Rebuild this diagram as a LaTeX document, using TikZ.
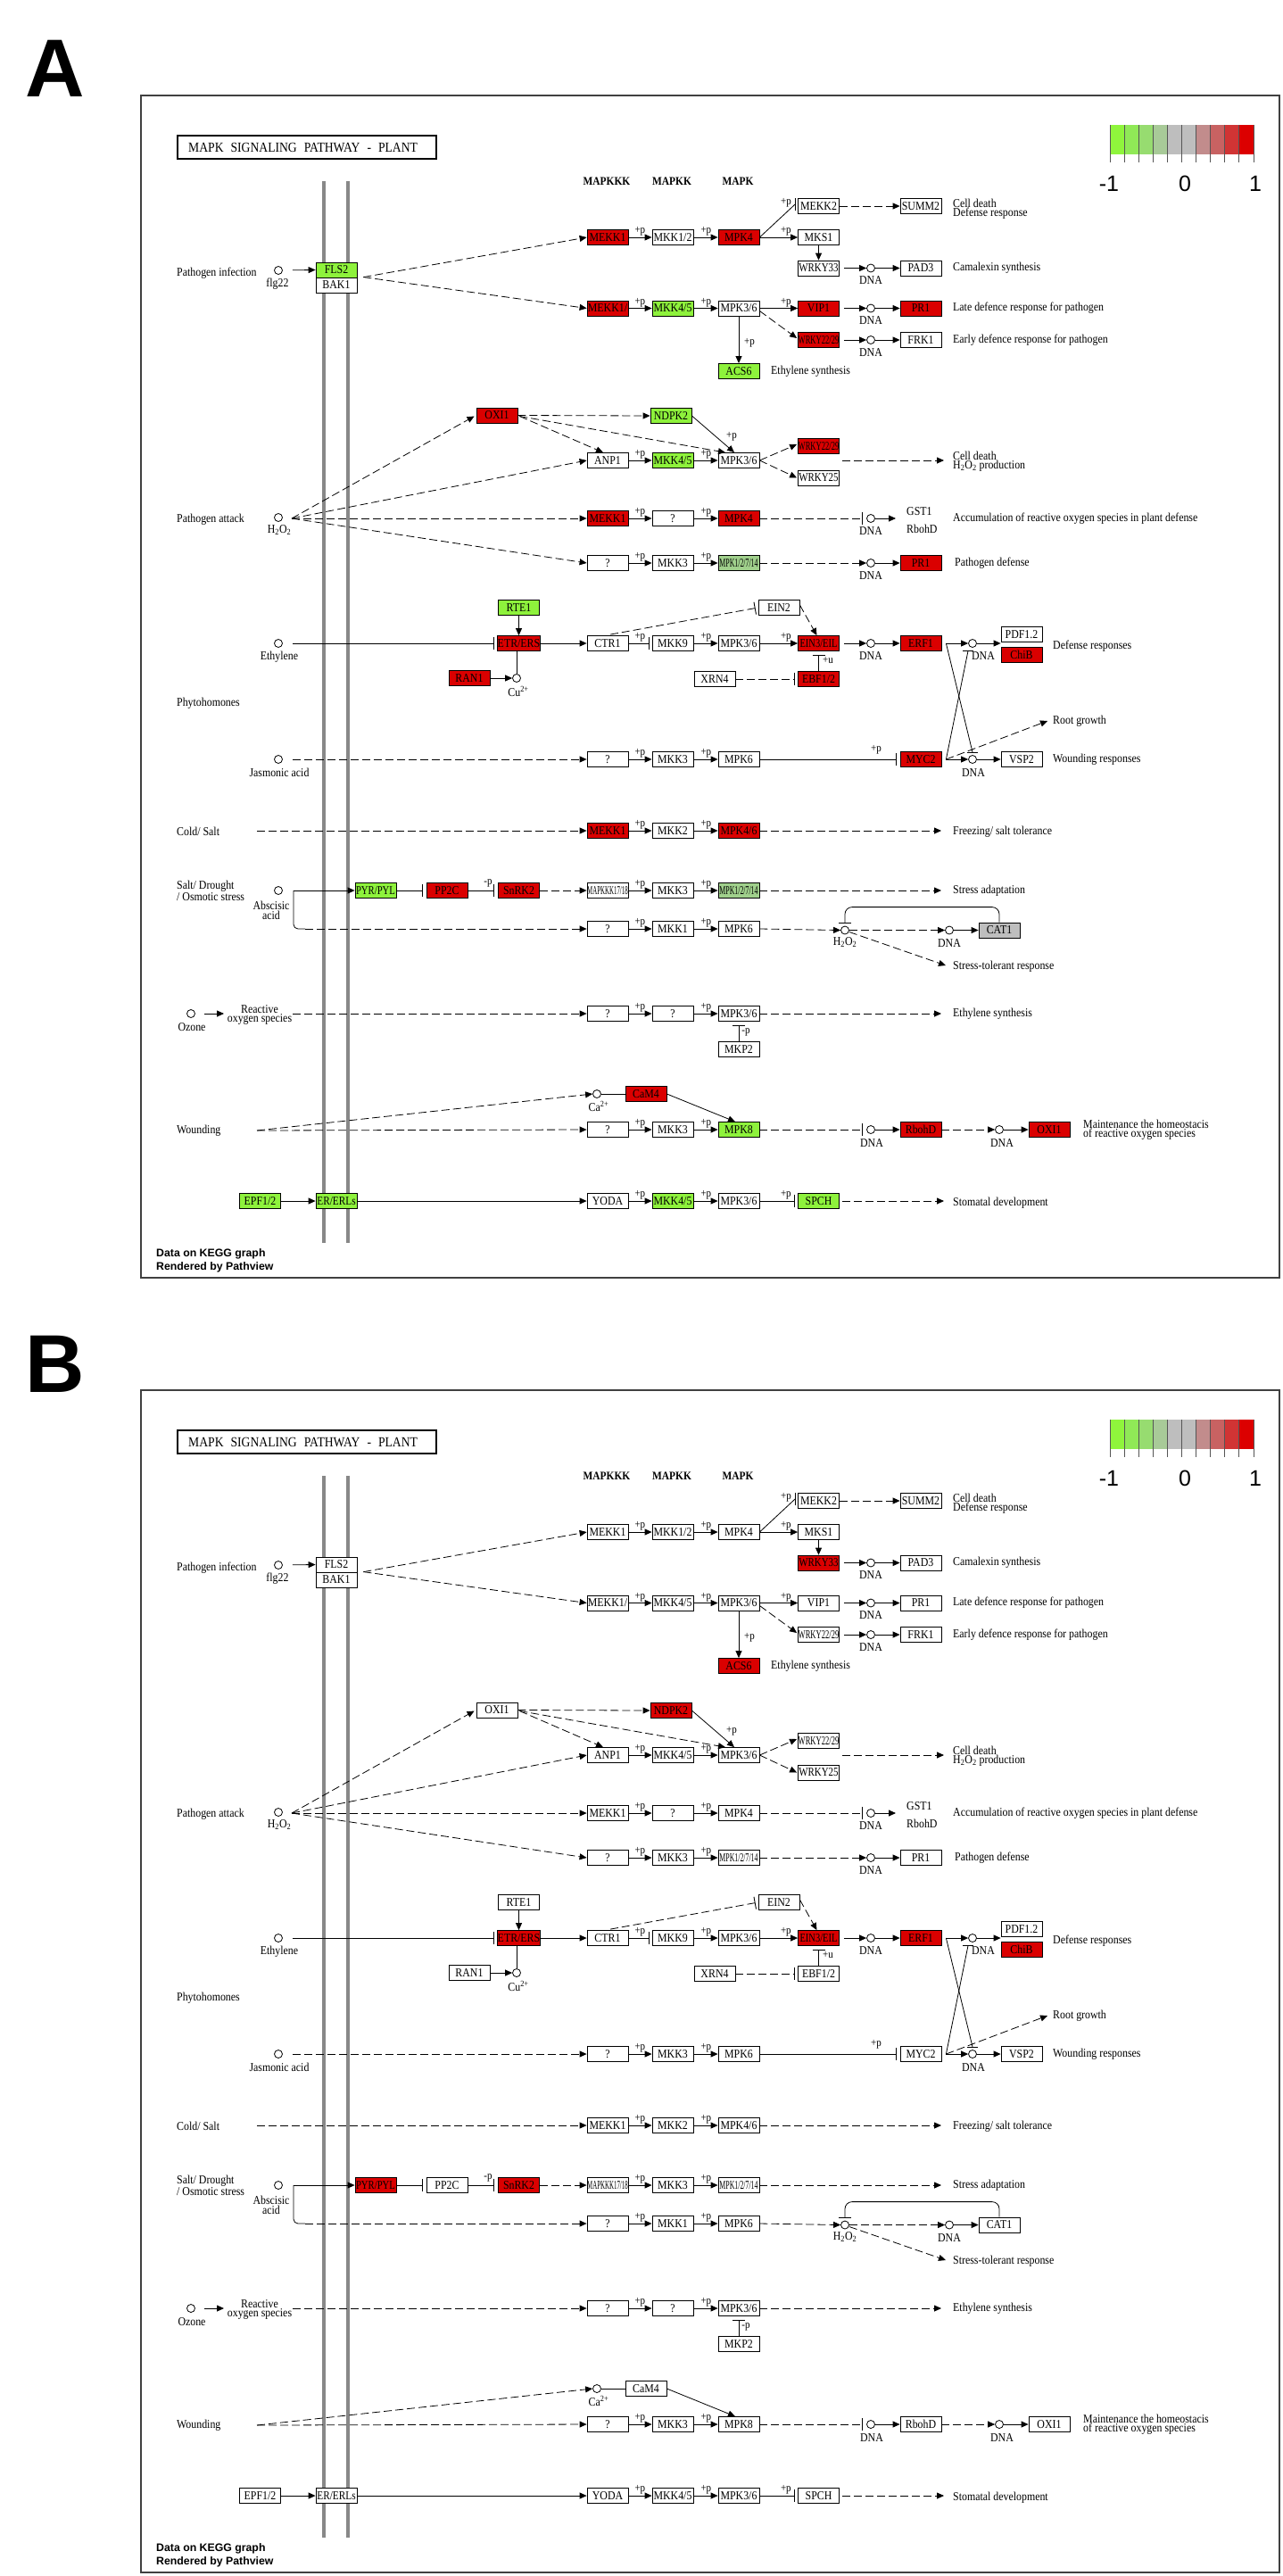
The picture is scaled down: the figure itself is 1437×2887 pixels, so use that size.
\documentclass[tikz,border=0pt]{standalone}
\usepackage{fontspec}
\usepackage{graphicx}
\usetikzlibrary{arrows.meta,calc}
\setmainfont{Liberation Serif}
\newfontfamily\kfam{Liberation Serif}[FakeStretch=0.88]
\newfontfamily\ksans{Liberation Sans}
\newcommand\kf{\kfam\fontsize{13.5}{11.5}\selectfont}
\newcommand\kfs{\kfam\fontsize{12.5}{11}\selectfont}
\newcommand\kfh{\kfam\bfseries\fontsize{13}{13}\selectfont}
\newcommand\kft{\kfam\fontsize{15.5}{15.5}\selectfont}
\newcommand\sq[2]{\scalebox{#1}[1]{#2}}
\definecolor{kred}{HTML}{DA0000}
\definecolor{kgreen}{HTML}{8EF23C}
\definecolor{klgreen}{HTML}{A0D08C}
\definecolor{kgray}{HTML}{BEBEBE}
\definecolor{membgray}{HTML}{888888}
\definecolor{tickgray}{HTML}{555555}
\definecolor{lg1}{HTML}{8FF53C}
\definecolor{lg2}{HTML}{90E957}
\definecolor{lg3}{HTML}{97DC70}
\definecolor{lg4}{HTML}{A8CA98}
\definecolor{lg5}{HTML}{BEBEBE}
\definecolor{lg6}{HTML}{BEBEBE}
\definecolor{lg7}{HTML}{C28C8C}
\definecolor{lg8}{HTML}{C86262}
\definecolor{lg9}{HTML}{D13434}
\definecolor{lg10}{HTML}{DC0000}
\tikzset{
  kbox/.style={draw=black, line width=0.8pt, fill=white, minimum width=46pt, minimum height=17pt, inner sep=0pt, font=\kf},
  kr/.style={fill=kred}, kg/.style={fill=kgreen}, klg/.style={fill=klgreen}, kgy/.style={fill=kgray},
  kc/.style={circle, draw=black, line width=0.8pt, minimum size=9pt, inner sep=0pt, fill=white},
  tx/.style={font=\kf, inner sep=0pt, anchor=west},
  tc/.style={font=\kf, inner sep=0pt},
  plab/.style={font=\kfs, inner sep=0pt},
  hd/.style={font=\kfh, inner sep=0pt},
  ft/.style={font=\ksans\bfseries\fontsize{12.3}{14}\selectfont, inner sep=0pt, anchor=west},
  lgf/.style={font=\ksans\fontsize{25}{25}\selectfont, inner sep=0pt},
  ar/.style={draw, line width=0.8pt, -{Triangle[length=8pt,width=7pt]}},
  da/.style={ar, dash pattern=on 9pt off 4pt},
  ih/.style={draw, line width=0.8pt, -{Bar[width=14pt,line width=0.9pt]}},
  dih/.style={ih, dash pattern=on 9pt off 4pt},
  ln/.style={draw, line width=0.8pt},
  memb/.style={draw=membgray, line width=3.5pt},
  cc-fls2/.style={}, cc-mekk1a/.style={}, cc-mpk4a/.style={}, cc-wrky33/.style={}, cc-mekk1b/.style={},
  cc-mkk45a/.style={}, cc-vip1/.style={}, cc-pr1a/.style={}, cc-wrky2229a/.style={}, cc-acs6/.style={},
  cc-oxi1a/.style={}, cc-ndpk2/.style={}, cc-mkk45b/.style={}, cc-wrky2229b/.style={}, cc-mekk1c/.style={},
  cc-mpk4b/.style={}, cc-mpk1a/.style={}, cc-pr1b/.style={}, cc-rte1/.style={}, cc-etr/.style={},
  cc-ran1/.style={}, cc-ein3/.style={}, cc-ebf12/.style={}, cc-erf1/.style={}, cc-chib/.style={},
  cc-myc2/.style={}, cc-mekk1d/.style={}, cc-mpk46/.style={}, cc-pyr/.style={}, cc-pp2c/.style={},
  cc-snrk2/.style={}, cc-mpk1b/.style={}, cc-cat1/.style={}, cc-cam4/.style={}, cc-mpk8/.style={},
  cc-rbohd/.style={}, cc-oxi1b/.style={}, cc-epf/.style={}, cc-erl/.style={}, cc-mkk45c/.style={},
  cc-spch/.style={}
}
\newcommand\kpa[3]{\draw[ar] (#1.east) -- (#2.west) node[plab, at end, anchor=south east, xshift=-7pt, yshift=1pt, name=#3] {+p};}
\newcommand\kpi[3]{\draw[ih, shorten >=3pt] (#1.east) -- (#2.west) node[plab, at end, anchor=south east, xshift=-7pt, yshift=1pt, name=#3] {+p};}
\newcommand\kpanel{%
\draw[line width=1.2pt, draw=black!75] (158,107) rectangle (1434,1432);
\draw[line width=2pt] (199,152) rectangle (489,178);
\node[inner sep=0pt, anchor=west, font=\kft] (title) at (211,165) {MAPK\hspace{8pt}SIGNALING\hspace{8pt}PATHWAY\hspace{8pt}-\hspace{8pt}PLANT};
\draw[memb] (363,203) -- (363,1393);
\draw[memb] (390,203) -- (390,1393);
\node[hd] (h3) at (680,203) {MAPKKK};
\node[hd] (h2) at (753,203) {MAPKK};
\node[hd] (h1) at (827,203) {MAPK};
% legend
\foreach \c [count=\i from 0] in {lg1,lg2,lg3,lg4,lg5,lg6,lg7,lg8,lg9,lg10}{\fill[\c] ({1244+16.1*\i},140) rectangle ++(16.1,33);}
\foreach \i in {0,...,10}{\draw[line width=0.9pt, draw=tickgray] ({1244+16.1*\i},140) -- ({1244+16.1*\i},182);}
\node[lgf] (lm1) at (1243,206) {-1};
\node[lgf] (l0) at (1328,206) {0};
\node[lgf] (lp1) at (1407,206) {1};
% ---------- pathogen infection
\node[tx] (t-pi) at (198,306) {Pathogen infection};
\node[kc] (flg) at (312,303) {};
\node[tc] (t-flg) at (311,318) {flg22};
\node[kbox,cc-fls2] (fls2) at (377,302.5) {FLS2};
\node[kbox] (bak1) at (377,319.5) {BAK1};
\draw[ar, shorten <=11pt] (flg) -- (fls2.west);
\node[kbox,cc-mekk1a] (mekk1a) at (681,266) {MEKK1};
\node[kbox] (mkk12) at (754,266) {MKK1/2};
\node[kbox,cc-mpk4a] (mpk4a) at (828,266) {MPK4};
\node[kbox] (mekk2) at (917.5,231) {MEKK2};
\node[kbox] (summ2) at (1032,231) {SUMM2};
\node[kbox] (mks1) at (917.5,266) {MKS1};
\node[kbox,cc-wrky33] (wrky33) at (917.5,300.5) {\sq{0.92}{WRKY33}};
\node[kbox] (pad3) at (1032,300.5) {PAD3};
\node[kc] (dna1) at (976,300.5) {};
\node[tc] (t-dna1) at (976,314) {DNA};
\node[kbox,cc-mekk1b] (mekk1b) at (681,345.5) {MEKK1/};
\node[kbox,cc-mkk45a] (mkk45a) at (754,345.5) {MKK4/5};
\node[kbox] (mpk36a) at (828,345.5) {MPK3/6};
\node[kbox,cc-vip1] (vip1) at (917.5,345.5) {VIP1};
\node[kbox,cc-pr1a] (pr1a) at (1032,345.5) {PR1};
\node[kc] (dna2) at (976,345.5) {};
\node[tc] (t-dna2) at (976,359) {DNA};
\node[kbox,cc-wrky2229a] (wrky2229a) at (917.5,381) {\sq{0.72}{WRKY22/29}};
\node[kbox] (frk1) at (1032,381) {FRK1};
\node[kc] (dna3) at (976,381) {};
\node[tc] (t-dna3) at (976,395) {DNA};
\node[kbox,cc-acs6] (acs6) at (828,416) {ACS6};
\draw[da] ($(bak1.north east)+(7,0)$) -- (mekk1a.west);
\draw[da] ($(bak1.north east)+(7,0)$) -- (mekk1b.west);
\kpa{mekk1a}{mkk12}{p1}
\kpa{mkk12}{mpk4a}{p2}
\coordinate (mk2b) at ($(mekk2.west)+(-3,-2)$);
\draw[ln] (mpk4a.east) -- (mk2b);
\draw[ln] (mk2b) +(0,-7) -- +(0,7);
\node[plab] (p3) at (881,227) {+p};
\kpa{mpk4a}{mks1}{p4}
\draw[ar] (mks1.south) -- (wrky33.north);
\draw[ar, shorten <=5pt] (wrky33.east) -- (dna1.west);
\draw[ar] (dna1.east) -- (pad3.west);
\draw[da] (mekk2.east) -- (summ2.west);
\node[tx] (t-cd1) at (1068,228) {Cell death};
\node[tx] (t-dr1) at (1068,239) {Defense response};
\node[tx] (t-cam) at (1068,300.5) {Camalexin synthesis};
\kpa{mekk1b}{mkk45a}{p5}
\kpa{mkk45a}{mpk36a}{p6}
\kpa{mpk36a}{vip1}{p7}
\draw[da] ($(mpk36a.east)+(0,3)$) -- ($(wrky2229a.west)+(-1,-2)$);
\draw[ar] (mpk36a.south) -- (acs6.north);
\node[plab] (p8) at (840,384) {+p};
\draw[ar, shorten <=5pt] (vip1.east) -- (dna2.west);
\draw[ar] (dna2.east) -- (pr1a.west);
\draw[ar, shorten <=5pt] (wrky2229a.east) -- (dna3.west);
\draw[ar] (dna3.east) -- (frk1.west);
\node[tx] (t-ldr) at (1068,345.5) {Late defence response for pathogen};
\node[tx] (t-edr) at (1068,381) {Early defence response for pathogen};
\node[tx] (t-es1) at (864,416) {Ethylene synthesis};
% ---------- pathogen attack
\node[tx] (t-pa) at (198,582) {Pathogen attack};
\node[kc] (h2o2) at (312,580) {};
\node[tc] (t-h2o2) at (313,594) {H\textsubscript{2}O\textsubscript{2}};
\coordinate (hs) at (327,581);
\node[kbox,cc-oxi1a] (oxi1a) at (557,465.5) {OXI1};
\node[kbox,cc-ndpk2] (ndpk2) at (752,466) {NDPK2};
\node[kbox] (anp1) at (681,516) {ANP1};
\node[kbox,cc-mkk45b] (mkk45b) at (754,516) {MKK4/5};
\node[kbox] (mpk36b) at (828,516) {MPK3/6};
\node[kbox,cc-wrky2229b] (wrky2229b) at (917.5,500) {\sq{0.72}{WRKY22/29}};
\node[kbox] (wrky25) at (917.5,535.5) {\sq{0.92}{WRKY25}};
\node[kbox,cc-mekk1c] (mekk1c) at (681,581) {MEKK1};
\node[kbox] (q1) at (754,581) {?};
\node[kbox,cc-mpk4b] (mpk4b) at (828,581) {MPK4};
\node[kbox] (q2) at (681,631) {?};
\node[kbox] (mkk3a) at (754,631) {MKK3};
\node[kbox,cc-mpk1a] (mpk1a) at (828,631) {\sq{0.66}{MPK1/2/7/14}};
\node[kbox,cc-pr1b] (pr1b) at (1032,631) {PR1};
\draw[da] (hs) -- ($(oxi1a.west)+(-2,1)$);
\draw[da] (hs) -- (anp1.west);
\draw[da] (hs) -- (mekk1c.west);
\draw[da] (hs) -- (q2.west);
\draw[da] (oxi1a.east) -- (ndpk2.west);
\draw[da] ($(oxi1a.east)+(2,1)$) -- ($(anp1.north)+(-5,0)$);
\draw[da] ($(oxi1a.east)+(2,1)$) -- ($(mpk36b.north)+(-15,0)$);
\draw[ar] (ndpk2.east) -- ($(mpk36b.north)+(-5,0)$);
\node[plab] (p9) at (820,489) {+p};
\kpa{anp1}{mkk45b}{p10}
\kpa{mkk45b}{mpk36b}{p11}
\draw[da] (mpk36b.east) -- ($(wrky2229b.west)+(-1,-2)$);
\draw[da] (mpk36b.east) -- ($(wrky25.west)+(-1,0)$);
\coordinate (cds) at (944,516);
\coordinate (cde) at (1058,516);
\draw[da] (cds) -- (cde);
\node[tx] (t-cd2a) at (1068,511) {Cell death};
\node[tx] (t-cd2b) at (1068,522) {H\textsubscript{2}O\textsubscript{2} production};
\kpa{mekk1c}{q1}{p12}
\kpa{q1}{mpk4b}{p13}
\node[kc] (dna4) at (976,581) {};
\node[tc] (t-dna4) at (976,595) {DNA};
\draw[dih, shorten >=4.5pt] (mpk4b.east) -- (dna4.west);
\coordinate (g1) at (1004,581);
\draw[ar] (dna4.east) -- (g1);
\node[tx] (t-gst) at (1016,573) {GST1};
\node[tx] (t-rboh) at (1016,593) {RbohD};
\node[tx] (t-acc) at (1068,581) {Accumulation of reactive oxygen species in plant defense};
\kpa{q2}{mkk3a}{p14}
\kpa{mkk3a}{mpk1a}{p15}
\node[kc] (dna5) at (976,631) {};
\node[tc] (t-dna5) at (976,645) {DNA};
\draw[da] (mpk1a.east) -- (dna5.west);
\draw[ar] (dna5.east) -- (pr1b.west);
\node[tx] (t-pd) at (1070,631) {Pathogen defense};
% ---------- ethylene
\node[kc] (ethy) at (312,721) {};
\node[tc] (t-ethy) at (313,736) {Ethylene};
\node[kbox,cc-rte1] (rte1) at (581.5,681) {RTE1};
\node[kbox,cc-etr] (etr) at (581.5,721) {ETR/ERS};
\node[kbox,cc-ran1] (ran1) at (526,760) {RAN1};
\node[kc] (cu) at (579,760) {};
\node[tc] (t-cu) at (581,775) {Cu\textsuperscript{2+}};
\node[kbox] (ctr1) at (681,721) {CTR1};
\node[kbox] (mkk9) at (754,721) {MKK9};
\node[kbox] (mpk36c) at (828,721) {MPK3/6};
\node[kbox] (ein2) at (873,681) {EIN2};
\node[kbox,cc-ein3] (ein3) at (917.5,721) {\sq{0.88}{EIN3/EIL}};
\node[kbox] (xrn4) at (801,761) {XRN4};
\node[kbox,cc-ebf12] (ebf12) at (917.5,761) {EBF1/2};
\node[kc] (dna6) at (976,721) {};
\node[tc] (t-dna6) at (976,735) {DNA};
\node[kbox,cc-erf1] (erf1) at (1032,721) {ERF1};
\node[kc] (dna7) at (1090,721) {};
\node[tc] (t-dna7) at (1102,735) {DNA};
\node[kbox] (pdf12) at (1145,711) {PDF1.2};
\node[kbox,cc-chib] (chib) at (1145,734) {ChiB};
\node[tx] (t-defr) at (1180,724) {Defense responses};
\draw[ih, shorten <=11pt, shorten >=3pt] (ethy) -- (etr.west);
\draw[ar] (rte1.south) -- (etr.north);
\draw[ln] (etr.south -| cu) -- (cu.north);
\draw[ar] (ran1.east) -- (cu.west);
\draw[ar] (etr.east) -- (ctr1.west);
\kpi{ctr1}{mkk9}{p16}
\kpa{mkk9}{mpk36c}{p17}
\kpa{mpk36c}{ein3}{p18}
\draw[dih, shorten >=3pt] ($(ctr1.north)+(3,-1)$) -- (ein2.west);
\draw[da] ($(ein2.east)+(0,-3)$) -- ($(ein3.north)+(-2,0)$);
\draw[ih, shorten >=4pt] (ebf12.north) -- (ein3.south);
\node[plab] (p19) at (928,740) {+u};
\draw[dih, shorten >=3pt] (xrn4.east) -- (ebf12.west);
\draw[ar, shorten <=5pt] (ein3.east) -- (dna6.west);
\draw[ar] (dna6.east) -- (erf1.west);
\coordinate (e1) at ($(erf1.east)+(5,0)$);
\draw[ar] (e1) -- (dna7.west);
\coordinate (pc) at ($(pdf12.south west)!0.5!(chib.north west)$);
\draw[ar] (dna7.east) -- (pc |- dna7);
% ---------- jasmonic
\node[tx] (t-phy) at (198,788) {Phytohomones};
\node[kc] (jas) at (312,851) {};
\node[tc] (t-jas) at (313,866) {Jasmonic acid};
\node[kbox] (q3) at (681,851) {?};
\node[kbox] (mkk3b) at (754,851) {MKK3};
\node[kbox] (mpk6a) at (828,851) {MPK6};
\node[kbox,cc-myc2] (myc2) at (1032,851) {MYC2};
\node[kc] (dna8) at (1090,851) {};
\node[tc] (t-dna8) at (1091,866) {DNA};
\node[kbox] (vsp2) at (1145,851) {VSP2};
\draw[da, shorten <=11pt] (jas) -- (q3.west);
\kpa{q3}{mkk3b}{p20}
\kpa{mkk3b}{mpk6a}{p21}
\draw[ih, shorten >=4pt] (mpk6a.east) -- (myc2.west);
\node[plab] (p22) at (982,840) {+p};
\coordinate (m1) at ($(myc2.east)+(5,0)$);
\draw[ar] (m1) -- (dna8.west);
\draw[ar] (dna8.east) -- (vsp2.west);
\coordinate (rg) at (1174,808);
\draw[da] (m1) -- (rg);
\node[tx] (t-rg) at (1180,808) {Root growth};
\node[tx] (t-wr) at (1180,851) {Wounding responses};
\coordinate (b8) at (1090,843);
\coordinate (b7) at (1085,729.5);
\draw[ln] (e1) -- (b8);
\draw[ln] (b8) +(-6,0) -- +(6,0);
\draw[ln] (m1) -- (b7);
\draw[ln] (b7) +(-6,0) -- +(6,0);
% ---------- cold / salt
\node[tx] (t-cs) at (198,932) {Cold/ Salt};
\coordinate (cs) at (288,931);
\node[kbox,cc-mekk1d] (mekk1d) at (681,931) {MEKK1};
\node[kbox] (mkk2) at (754,931) {MKK2};
\node[kbox,cc-mpk46] (mpk46) at (828,931) {MPK4/6};
\draw[da] (cs) -- (mekk1d.west);
\kpa{mekk1d}{mkk2}{p23}
\kpa{mkk2}{mpk46}{p24}
\coordinate (fz) at (1055,931);
\draw[da] (mpk46.east) -- (fz);
\node[tx] (t-fz) at (1068,932) {Freezing/ salt tolerance};
% ---------- salt / drought
\node[tx] (t-sd1) at (198,993) {Salt/ Drought};
\node[tx] (t-sd2) at (198,1005) {/ Osmotic stress};
\node[kc] (aba) at (312,998) {};
\node[tc] (t-aba1) at (304,1015) {Abscisic};
\node[tc] (t-aba2) at (304,1026) {acid};
\node[kbox,cc-pyr] (pyr) at (421,998) {\sq{0.9}{PYR/PYL}};
\node[kbox,cc-pp2c] (pp2c) at (501,998) {PP2C};
\node[kbox,cc-snrk2] (snrk2) at (581.5,998) {SnRK2};
\node[kbox] (mapkkk) at (681,998) {\sq{0.58}{MAPKKK17/18}};
\node[kbox] (mkk3c) at (754,998) {MKK3};
\node[kbox,cc-mpk1b] (mpk1b) at (828,998) {\sq{0.66}{MPK1/2/7/14}};
\coordinate (ab) at (329,998);
\coordinate (ab2) at (342,1041);
\draw[ar] (ab) -- (pyr.west);
\draw[ln, rounded corners=5pt] (ab) |- (ab2);
\draw[ih, shorten >=4pt] (pyr.east) -- (pp2c.west);
\draw[ih, shorten >=4pt] (pp2c.east) -- (snrk2.west);
\node[plab] (p25) at (547,990) {-p};
\draw[da] (snrk2.east) -- (mapkkk.west);
\kpa{mapkkk}{mkk3c}{p26}
\kpa{mkk3c}{mpk1b}{p27}
\coordinate (sa) at (1055,998);
\draw[da] (mpk1b.east) -- (sa);
\node[tx] (t-sa) at (1068,998) {Stress adaptation};
\node[kbox] (q4) at (681,1041) {?};
\node[kbox] (mkk1) at (754,1041) {MKK1};
\node[kbox] (mpk6b) at (828,1041) {MPK6};
\node[kc] (h2o2b) at (947,1042.5) {};
\node[kc] (dna9) at (1064,1042.5) {};
\node[kbox,cc-cat1] (cat1) at (1120,1042.5) {CAT1};
\draw[da] (ab2) -- (q4.west);
\kpa{q4}{mkk1}{p28}
\kpa{mkk1}{mpk6b}{p29}
\draw[da] (mpk6b.east) -- (h2o2b.west);
\draw[da] (h2o2b.east) -- (dna9.west);
\draw[ar] (dna9.east) -- (cat1.west);
\coordinate (ct) at ($(cat1.north)+(0,-17)$);
\draw[ih, rounded corners=8pt, shorten >=3pt] (cat1.north) -- (ct) -- (ct -| h2o2b) -- (h2o2b.north);
\node[tc] (t-h2b) at (947,1056) {H\textsubscript{2}O\textsubscript{2}};
\node[tc] (t-dna9) at (1064,1057) {DNA};
\coordinate (st) at (1060,1082);
\draw[da] ($(h2o2b.east)+(0,2)$) -- (st);
\node[tx] (t-st) at (1068,1083) {Stress-tolerant response};
% ---------- ozone
\node[kc] (oz) at (214,1136) {};
\node[tc] (t-oz) at (215,1151) {Ozone};
\node[tc] (t-ros1) at (291,1131) {Reactive};
\node[tc] (t-ros2) at (291,1142) {oxygen species};
\coordinate (ro) at (251,1136);
\coordinate (ro2) at (328,1136);
\draw[ar, shorten <=10.5pt] (oz) -- (ro);
\node[kbox] (q5) at (681,1136) {?};
\node[kbox] (q6) at (754,1136) {?};
\node[kbox] (mpk36d) at (828,1136) {MPK3/6};
\node[kbox] (mkp2) at (828,1176) {MKP2};
\draw[da] (ro2) -- (q5.west);
\kpa{q5}{q6}{p30}
\kpa{q6}{mpk36d}{p31}
\coordinate (es) at (1055,1136);
\draw[da] (mpk36d.east) -- (es);
\node[tx] (t-es2) at (1068,1136) {Ethylene synthesis};
\draw[ih, shorten >=4pt] (mkp2.north) -- (mpk36d.south);
\node[plab] (p32) at (836,1157) {-p};
% ---------- wounding
\node[tx] (t-w) at (198,1267) {Wounding};
\coordinate (wd) at (288,1267);
\node[kc] (ca) at (669,1226) {};
\node[tc] (t-ca) at (671,1240) {Ca\textsuperscript{2+}};
\node[kbox,cc-cam4] (cam4) at (724,1226) {CaM4};
\node[kbox] (q7) at (681,1266) {?};
\node[kbox] (mkk3d) at (754,1266) {MKK3};
\node[kbox,cc-mpk8] (mpk8) at (828,1266) {MPK8};
\node[kc] (dna10) at (976,1266) {};
\node[tc] (t-dna10) at (977,1281) {DNA};
\node[kbox,cc-rbohd] (rbohd) at (1032,1266) {RbohD};
\node[kc] (dna11) at (1120,1266) {};
\node[tc] (t-dna11) at (1123,1281) {DNA};
\node[kbox,cc-oxi1b] (oxi1b) at (1176,1266) {OXI1};
\draw[da] (wd) -- (ca.west);
\draw[da] (wd) -- (q7.west);
\draw[ln] (ca.east) -- (cam4.west);
\draw[ar] (cam4.east) -- ($(mpk8.north)+(-4,0)$);
\kpa{q7}{mkk3d}{p33}
\kpa{mkk3d}{mpk8}{p34}
\draw[dih, shorten >=4.5pt] (mpk8.east) -- (dna10.west);
\draw[ar] (dna10.east) -- (rbohd.west);
\draw[da] (rbohd.east) -- (dna11.west);
\draw[ar] (dna11.east) -- (oxi1b.west);
\node[tx] (t-m1) at (1214,1260) {Maintenance the homeostacis};
\node[tx] (t-m2) at (1214,1271) {of reactive oxygen species};
% ---------- stomatal
\node[kbox,cc-epf] (epf) at (291.5,1346) {EPF1/2};
\node[kbox,cc-erl] (erl) at (377,1346) {\sq{0.95}{ER/ERLs}};
\node[kbox] (yoda) at (681,1346) {YODA};
\node[kbox,cc-mkk45c] (mkk45c) at (754,1346) {MKK4/5};
\node[kbox] (mpk36e) at (828,1346) {MPK3/6};
\node[kbox,cc-spch] (spch) at (917.5,1346) {SPCH};
\draw[ar] (epf.east) -- (erl.west);
\draw[ar] (erl.east) -- (yoda.west);
\kpa{yoda}{mkk45c}{p35}
\kpa{mkk45c}{mpk36e}{p36}
\kpi{mpk36e}{spch}{p37}
\coordinate (sd) at (1058,1346);
\draw[da, shorten <=3.5pt] (spch.east) -- (sd);
\node[tx] (t-sdv) at (1068,1348) {Stomatal development};
% footer
\node[ft] (f1) at (175,1405) {Data on KEGG graph};
\node[ft] (f2) at (175,1420) {Rendered by Pathview};
}
\begin{document}
\begin{tikzpicture}[x=1pt, y=-1pt]
\useasboundingbox (0,0) rectangle (1437,2887);
\fill[white] (0,0) rectangle (1437,2887);
\node[font=\ksans\bfseries\fontsize{92}{92}\selectfont, anchor=base, inner sep=0pt] (LA) at (62,109) {A};
\node[font=\ksans\bfseries\fontsize{92}{92}\selectfont, anchor=base, inner sep=0pt] (LB) at (62,1560) {B};
\begin{scope}[name prefix=A-,
  cc-fls2/.style=kg, cc-mekk1a/.style=kr, cc-mpk4a/.style=kr, cc-mekk1b/.style=kr, cc-mkk45a/.style=kg,
  cc-vip1/.style=kr, cc-pr1a/.style=kr, cc-wrky2229a/.style=kr, cc-acs6/.style=kg, cc-oxi1a/.style=kr,
  cc-ndpk2/.style=kg, cc-mkk45b/.style=kg, cc-wrky2229b/.style=kr, cc-mekk1c/.style=kr, cc-mpk4b/.style=kr,
  cc-mpk1a/.style=klg, cc-pr1b/.style=kr, cc-rte1/.style=kg, cc-etr/.style=kr, cc-ran1/.style=kr,
  cc-ein3/.style=kr, cc-ebf12/.style=kr, cc-erf1/.style=kr, cc-chib/.style=kr, cc-myc2/.style=kr,
  cc-mekk1d/.style=kr, cc-mpk46/.style=kr, cc-pyr/.style=kg, cc-pp2c/.style=kr, cc-snrk2/.style=kr,
  cc-mpk1b/.style=klg, cc-cat1/.style=kgy, cc-cam4/.style=kr, cc-mpk8/.style=kg, cc-rbohd/.style=kr,
  cc-oxi1b/.style=kr, cc-epf/.style=kg, cc-erl/.style=kg, cc-mkk45c/.style=kg, cc-spch/.style=kg]
\kpanel
\end{scope}
\begin{scope}[yshift=-1451pt, name prefix=B-,
  cc-wrky33/.style=kr, cc-acs6/.style=kr, cc-ndpk2/.style=kr, cc-etr/.style=kr, cc-ein3/.style=kr,
  cc-erf1/.style=kr, cc-chib/.style=kr, cc-pyr/.style=kr, cc-snrk2/.style=kr]
\kpanel
\end{scope}
\end{tikzpicture}
\end{document}
